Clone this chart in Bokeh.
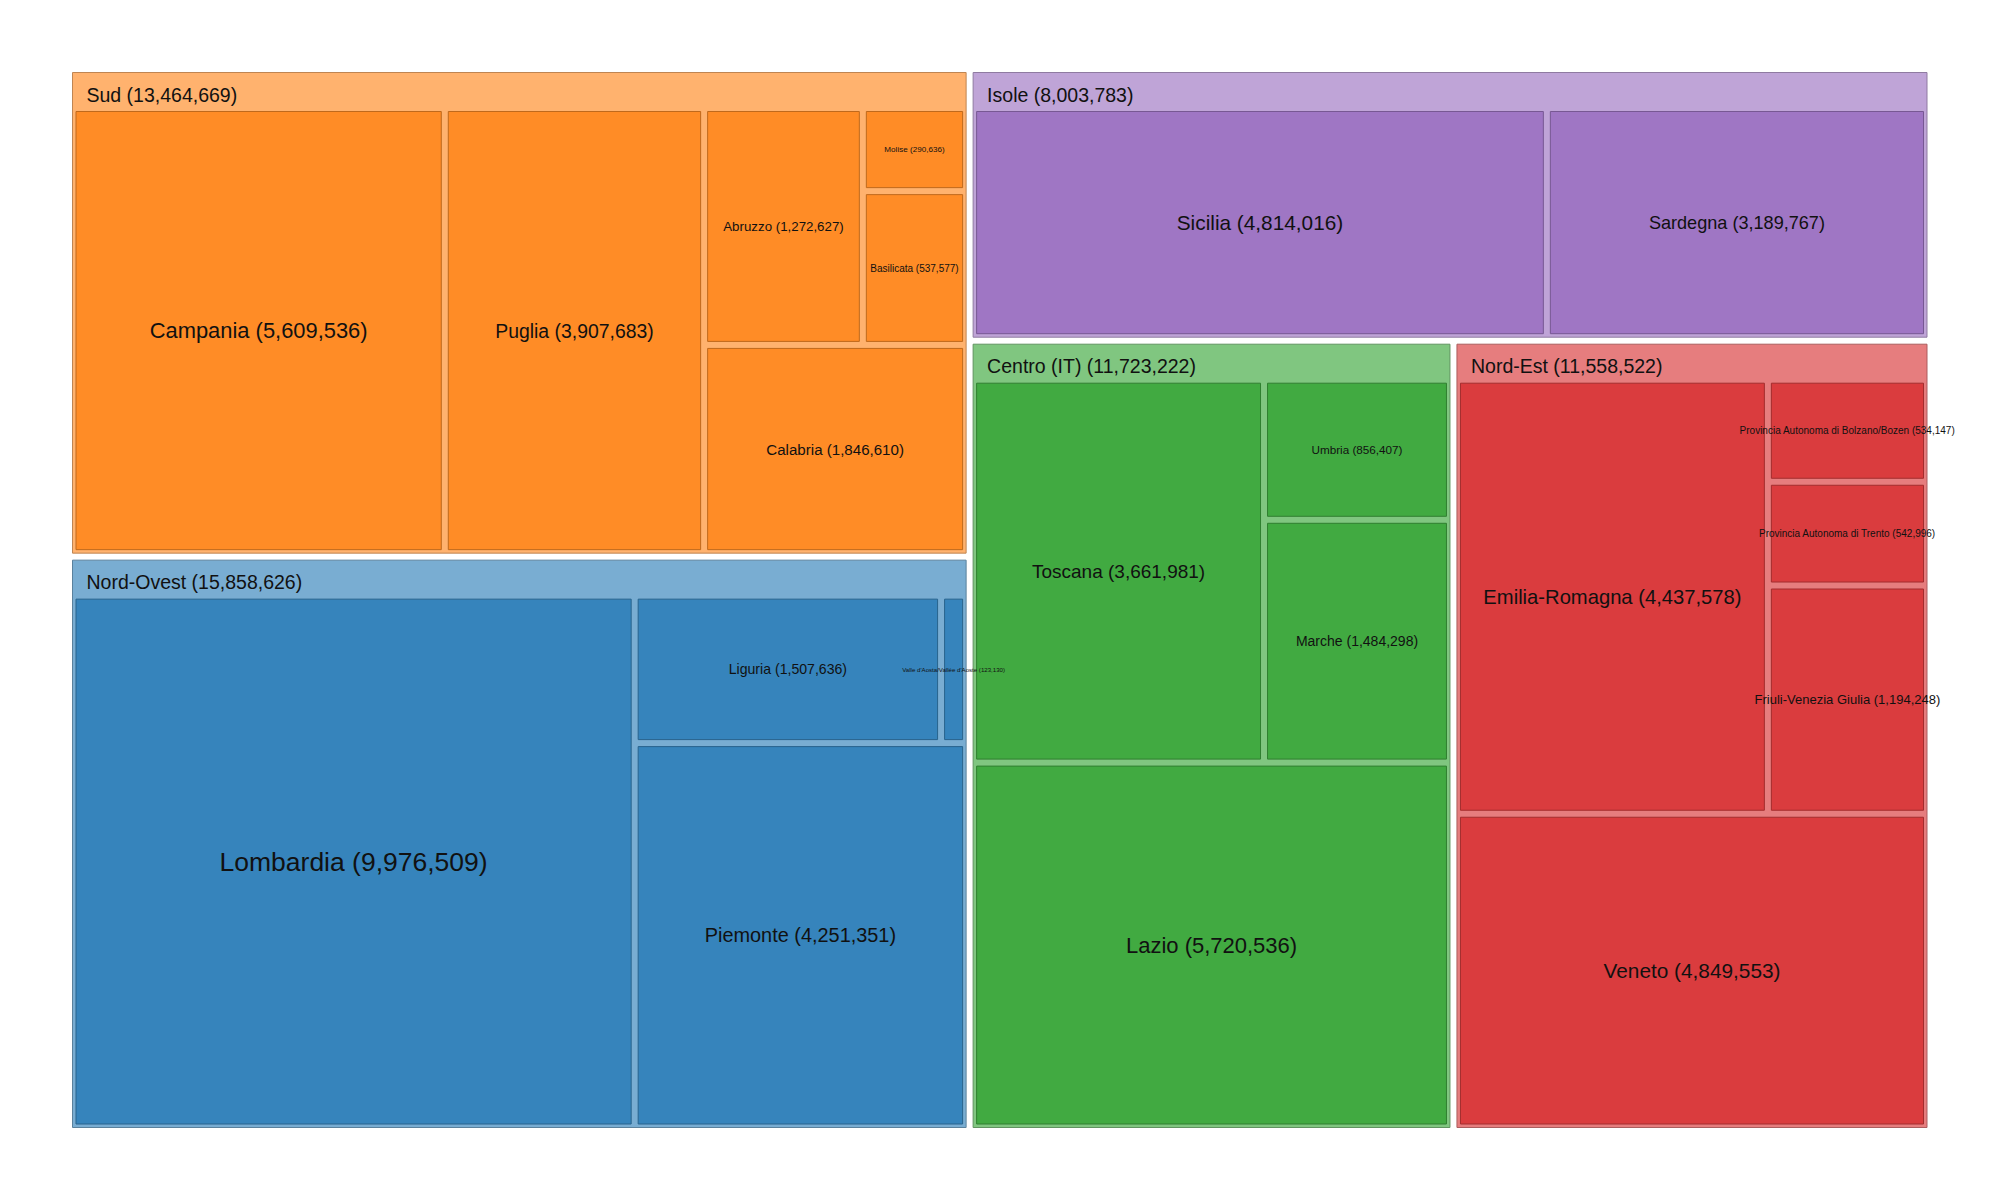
from bokeh.plotting import figure
from bokeh.models import ColumnDataSource, Range1d
from bokeh.embed import file_html
from bokeh.resources import INLINE
from bokeh.core.properties import value

# ---------------- data ----------------
groups = ["Nord-Ovest", "Sud", "Centro (IT)", "Nord-Est", "Isole"]
group_colors = ["#1f77b4", "#ff7f0e", "#2ca02c", "#d62728", "#9467bd"]

nord_ovest_regions = ["Lombardia", "Piemonte", "Liguria", "Valle d'Aosta/Vallée d'Aoste"]
nord_ovest_values = [9976509, 4251351, 1507636, 123130]

sud_regions = ["Campania", "Puglia", "Calabria", "Abruzzo", "Basilicata", "Molise"]
sud_values = [5609536, 3907683, 1846610, 1272627, 537577, 290636]

centro_regions = ["Lazio", "Toscana", "Marche", "Umbria"]
centro_values = [5720536, 3661981, 1484298, 856407]

nord_est_regions = ["Veneto", "Emilia-Romagna", "Friuli-Venezia Giulia",
                    "Provincia Autonoma di Trento", "Provincia Autonoma di Bolzano/Bozen"]
nord_est_values = [4849553, 4437578, 1194248, 542996, 534147]

isole_regions = ["Sicilia", "Sardegna"]
isole_values = [4814016, 3189767]

children = [
    (nord_ovest_regions, nord_ovest_values),
    (sud_regions, sud_values),
    (centro_regions, centro_values),
    (nord_est_regions, nord_est_values),
    (isole_regions, isole_values),
]

# ---------------- squarified layout (y up) ----------------
def worst(row, side):
    s = sum(row)
    return max(max(side * side * r / (s * s), (s * s) / (side * side * r)) for r in row)


def squarify(vals, x, y, w, h):
    total = float(sum(vals))
    areas = [v * w * h / total for v in vals]
    rects = []
    i = 0
    while i < len(areas):
        side = min(w, h)
        row = [areas[i]]
        j = i + 1
        while j < len(areas) and worst(row + [areas[j]], side) <= worst(row, side):
            row.append(areas[j])
            j += 1
        s = sum(row)
        if w >= h:
            cw = s / h
            yy = y
            for a in row:
                rh = a / cw
                rects.append((x, yy, cw, rh))
                yy += rh
            x += cw
            w -= cw
        else:
            rh = s / w
            xx = x
            for a in row:
                rw = a / rh
                rects.append((xx, y, rw, rh))
                xx += rw
            y += rh
            h -= rh
        i = j
    return rects


def mix(c, a, bg):
    c = [int(c[k:k + 2], 16) for k in (1, 3, 5)]
    return tuple(round(a * c[k] + (1 - a) * bg[k]) for k in range(3))


def hexc(t):
    return "#%02x%02x%02x" % t


W, H = 1984, 1184
PAD = 3.5
HEADER = 35.5

group_totals = [sum(v) for _, v in children]
order = sorted(range(len(groups)), key=lambda k: -group_totals[k])
grects = squarify([group_totals[k] for k in order], 68.5, 53.5, 1861.5, 1062.0)

g_src = dict(x0=[], x1=[], y0=[], y1=[], fill=[], line=[])
gt_src = dict(x=[], y=[], text=[])
l_src = dict(x0=[], x1=[], y0=[], y1=[], fill=[], line=[])
lt_src = dict(x=[], y=[], text=[], size=[])

for k, (x, y, w, h) in zip(order, grects):
    gx0, gx1, gy0, gy1 = x + PAD, x + w - PAD, y + PAD, y + h - PAD
    base = group_colors[k]
    gfill = mix(base, 0.6, (255, 255, 255))
    lfill = mix(base, 0.75, gfill)
    g_src["x0"].append(gx0); g_src["x1"].append(gx1)
    g_src["y0"].append(gy0); g_src["y1"].append(gy1)
    g_src["fill"].append(hexc(gfill))
    g_src["line"].append(hexc(tuple(int(c * 0.75) for c in gfill)))
    gt_src["x"].append(gx0 + 14)
    gt_src["y"].append(gy1 - 22)
    gt_src["text"].append(f"{groups[k]} ({group_totals[k]:,})")

    names, vals = children[k]
    idx = sorted(range(len(vals)), key=lambda q: -vals[q])
    lrects = squarify([vals[q] for q in idx], gx0, gy0, gx1 - gx0, (gy1 - HEADER) - gy0)
    for q, (lx, ly, lw, lh) in zip(idx, lrects):
        l_src["x0"].append(lx + PAD); l_src["x1"].append(lx + lw - PAD)
        l_src["y0"].append(ly + PAD); l_src["y1"].append(ly + lh - PAD)
        l_src["fill"].append(hexc(lfill))
        l_src["line"].append(hexc(tuple(int(c * 0.75) for c in lfill)))
        lt_src["x"].append(lx + lw / 2)
        lt_src["y"].append(ly + lh / 2)
        lt_src["text"].append(f"{names[q]} ({vals[q]:,})")
        lt_src["size"].append("%.1fpx" % (0.123 * vals[q] ** (1.0 / 3.0)))

p = figure(width=W, height=H, output_backend="svg", toolbar_location=None,
           x_range=Range1d(0, W), y_range=Range1d(0, H),
           min_border=0, outline_line_color=None)
p.axis.visible = False
p.grid.visible = False
p.background_fill_color = "white"

FONT = "Liberation Sans"

p.quad(left="x0", right="x1", bottom="y0", top="y1", source=ColumnDataSource(g_src),
       fill_color="fill", line_color="line", line_width=1)
p.quad(left="x0", right="x1", bottom="y0", top="y1", source=ColumnDataSource(l_src),
       fill_color="fill", line_color="line", line_width=1)
p.text(x="x", y="y", text="text", source=ColumnDataSource(gt_src),
       text_font=value(FONT), text_font_size="19.5px", text_color="#111111",
       text_align="left", text_baseline="middle")
p.text(x="x", y="y", text="text", source=ColumnDataSource(lt_src),
       text_font=value(FONT), text_font_size="size", text_color="#111111",
       text_align="center", text_baseline="middle")

open("out.html", "w").write(file_html(p, INLINE))
